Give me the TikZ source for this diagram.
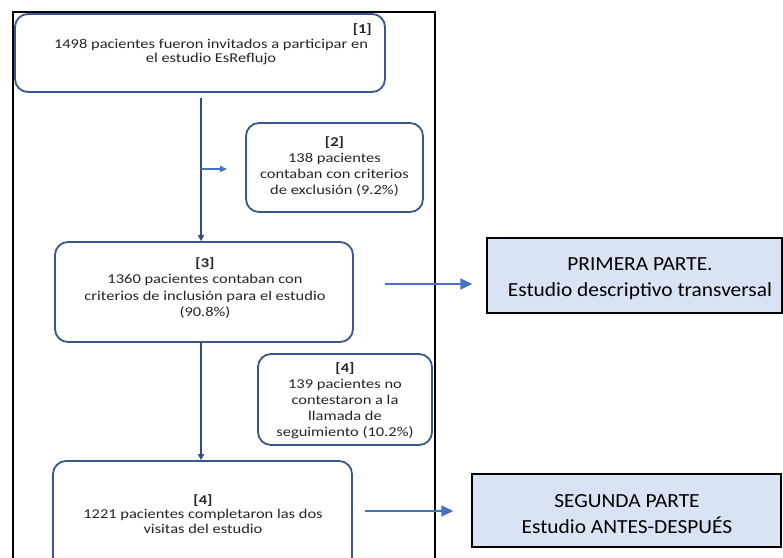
\documentclass[tikz,border=0pt]{standalone}
\usepackage{fontspec}
\setmainfont{Carlito}
\newfontfamily\flowfont[FakeStretch=1.22]{Carlito}
\newfontfamily\partfont[FakeStretch=1.07]{Carlito}
\usetikzlibrary{arrows.meta}
\definecolor{boxline}{HTML}{3A5690}
\definecolor{spineline}{HTML}{2F4C88}
\definecolor{branchline}{HTML}{4472C4}
\definecolor{partfill}{HTML}{DAE3F3}
\definecolor{flowtext}{HTML}{262626}
\tikzset{
  flowbox/.style={draw=boxline, line width=1.8pt, rounded corners=13pt,
    inner sep=0pt},
  flowtxt/.style={text=flowtext, inner sep=0pt, align=center,
    font=\flowfont\fontsize{13.5}{16}\selectfont},
  tighttxt/.style={flowtxt, font=\flowfont\fontsize{13.5}{14.5}\selectfont},
  tagtext/.style={text=flowtext, inner sep=0pt,
    font=\flowfont\bfseries\fontsize{13.5}{16}\selectfont},
  partbox/.style={draw=black, line width=1.5pt, fill=partfill, inner sep=0pt},
  parttxt/.style={inner sep=0pt, align=center, text=black,
    font=\partfont\fontsize{20}{26}\selectfont},
  spine/.style={draw=spineline, line width=1.8pt,
    -{Triangle[length=6pt,width=6pt]}},
  branch/.style={draw=branchline, line width=1.2pt,
    -{Triangle[length=7pt,width=6pt]}},
  lead/.style={draw=branchline, line width=2pt,
    -{Triangle[length=12pt,width=11pt]}},
}
\begin{document}
\begin{tikzpicture}[x=1pt, y=-1pt]
\useasboundingbox (0,0) rectangle (783,557);
\clip (0,0) rectangle (783,557);
\fill[white] (0,0) rectangle (783,557);

% outer frame around the flow chart
\draw[line width=2.5pt] (13,12) rectangle (435,620);

% flow chart boxes
\node[flowbox, minimum width=370pt, minimum height=78pt] (b1) at (200,53) {};
\node[tighttxt] (b1txt) at (211,52)
  {1498 pacientes fueron invitados a participar en\\el estudio EsReflujo};
\node[tagtext, anchor=east] (t1) at (372,30) {[1]};

\node[flowbox, minimum width=177pt, minimum height=89pt] (b2) at (334.5,167.5) {};
\node[flowtxt] (b2txt) at (334.5,166.5)
  {\textbf{[2]}\\138 pacientes\\contaban con criterios\\de exclusión (9.2\%)};

\node[flowbox, minimum width=298pt, minimum height=100pt] (b3) at (204,292) {};
\node[flowtxt, font=\flowfont\fontsize{13.5}{16.5}\selectfont] (b3txt) at (205,288)
  {\textbf{[3]}\\1360 pacientes contaban con\\criterios de inclusión para el estudio\\(90.8\%)};

\node[flowbox, minimum width=174pt, minimum height=91pt] (b4) at (345,399.5) {};
\node[flowtxt] (b4txt) at (345,401)
  {\textbf{[4]}\\139 pacientes no\\contestaron a la\\llamada de\\seguimiento (10.2\%)};

\node[flowbox, minimum width=299pt, minimum height=124pt] (b5) at (202.5,523) {};
\node[tighttxt] (b5txt) at (203,514)
  {\textbf{[4]}\\1221 pacientes completaron las dos\\visitas del estudio};

% study part boxes
\node[partbox, minimum width=295pt, minimum height=75pt] (p1) at (634.5,275.5) {};
\node[parttxt] (p1txt) at (640,279)
  {PRIMERA PARTE.\\Estudio descriptivo transversal};
\node[partbox, minimum width=309pt, minimum height=73pt] (p2) at (626.5,510.5) {};
\node[parttxt] (p2txt) at (627,514)
  {SEGUNDA PARTE\\Estudio ANTES-DESPUÉS};

% connectors
\coordinate (axis) at (201,0);
\coordinate (fork) at (201,169);
\coordinate (lead1) at (385,284);
\coordinate (lead2) at (365,511);

\draw[spine] ([yshift=-5pt]b1.south -| axis) -- (b3.north -| axis);
\draw[spine] (b3.south -| axis) -- (b5.north -| axis);
\draw[branch] (fork) -- ([xshift=-18pt]b2.west |- fork);
\draw[lead] (lead1) -- ([xshift=-14pt]p1.west |- lead1);
\draw[lead] (lead2) -- ([xshift=-18pt]p2.west |- lead2);
\end{tikzpicture}
\end{document}
